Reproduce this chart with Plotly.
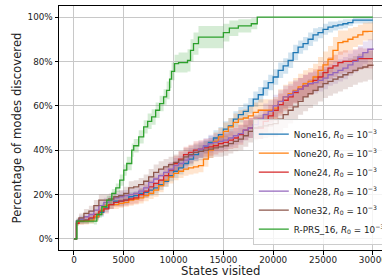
import plotly.graph_objects as go

# ---------------- data ----------------
# common x grid for the "None" runs (states visited)
X_NONE = [0, 250,
          500, 1000, 1500, 2000, 2500, 3000, 3500, 4000, 4500, 5000,
          5500, 6000, 6500, 7000, 7500, 8000, 8500, 9000, 9500, 10000,
          10500, 11000, 11500, 12000, 12500, 13000, 13500, 14000, 14500, 15000,
          15500, 16000, 16500, 17000, 17500, 18000, 18500, 19000, 19500, 20000,
          20500, 21000, 21500, 22000, 22500, 23000, 23500, 24000, 24500, 25000,
          25500, 26000, 26500, 27000, 27500, 28000, 28500, 29000, 29500, 30000]

none16 = [0, 8,
          8.5, 8.5, 9, 10, 12, 14, 15.5, 17, 17, 17.5,
          19, 19.5, 20.5, 21, 22, 23, 24.5, 26, 28.5, 30.5,
          32, 34, 36, 38, 39.5, 41.5, 43.5, 45.5, 47, 49.5,
          51, 54, 56, 57.5, 60, 63, 65, 68, 70.5, 73,
          76, 78, 80.5, 84, 86.5, 88, 90, 92, 93, 94.5,
          95.5, 96, 96.5, 97, 97.5, 98.6, 98.6, 98.6, 98.6, 98.6]
none16_sd = [0, 1,
             1.5, 1.5, 1.5, 1.5, 2, 2, 2, 2, 2, 2,
             2, 2, 2, 2.5, 2.5, 2.5, 2.5, 2.5, 2.5, 3,
             3, 3, 3, 3, 3, 3, 3, 3.5, 3.5, 3.5,
             3.5, 3.5, 3.5, 3.5, 3.5, 3.5, 3.5, 3.5, 3.5, 3.5,
             3.5, 3.5, 3.5, 3.5, 3, 3, 3, 3, 2.5, 2.5,
             2.5, 2, 2, 2, 1.5, 1.5, 1.5, 1.5, 1.5, 1.5]

none20 = [0, 7,
          8, 8, 8.5, 10, 13, 15, 15.5, 15.5, 16, 16.5,
          17.5, 18, 18.5, 19.5, 20.5, 22, 24, 26.5, 28, 29.5,
          30.5, 31.5, 32, 32.5, 33, 36, 40, 44, 46, 48.5,
          50.5, 52.5, 54, 54.5, 55.5, 57, 58, 58, 58, 59,
          62, 64, 65.5, 67, 68.5, 70, 71, 73, 76, 78.5,
          81, 85, 88.5, 89, 90, 91, 92, 93.5, 93.6, 93.6]
none20_sd = [0, 1,
             1.5, 1.5, 1.5, 2, 2, 2, 2, 2, 2, 2,
             2.5, 2.5, 2.5, 2.5, 2.5, 3, 3, 3, 3, 3,
             3, 3, 3, 3, 3, 3.5, 3.5, 4, 4, 4,
             4, 4, 4, 4, 4.5, 4.5, 5, 5, 5, 5,
             5.5, 5.5, 5.5, 5.5, 6, 6, 6, 6, 6, 6,
             6, 6, 5.5, 5, 5, 4.5, 4.5, 4, 4, 4]

none24 = [0, 7,
          8, 8.5, 9.5, 11, 12.5, 13.5, 15.5, 16.5, 17, 17.5,
          18, 18.5, 20, 21.5, 23.5, 25, 26.5, 28.5, 31, 34,
          36, 38, 39, 40, 40.5, 41, 41.5, 42, 43, 43.5,
          44.5, 45.5, 47, 49, 50, 50, 50, 53, 55.5, 58,
          60.5, 62.5, 64, 66, 67.5, 69, 70, 71.5, 73, 75,
          77, 78, 79.5, 80, 80, 80.5, 81.3, 81.3, 81.3, 81.3]
none24_sd = [0, 1,
             1.5, 1.5, 2, 2, 2, 2, 2, 2, 2.5, 2.5,
             2.5, 2.5, 3, 3, 3, 3, 3, 3.5, 3.5, 3.5,
             3.5, 3.5, 3.5, 4, 4, 4, 4, 4, 4, 4,
             4, 4.5, 4.5, 4.5, 4.5, 5, 5, 5, 5, 5,
             5, 5, 5, 5, 5, 5, 5, 5, 5, 5,
             5, 5, 5, 5, 5, 5, 5, 4.5, 4.5, 4.5]

none28 = [0, 8,
          9, 10, 11, 13, 15, 16.5, 17.5, 18.5, 19, 19.5,
          20, 20.5, 21.5, 23, 25.5, 27, 28.5, 30, 31.5, 33,
          34, 35.5, 37.5, 39, 40.5, 42, 43, 43.5, 44, 44.5,
          45.5, 46.5, 47.5, 49, 50, 51.5, 54, 56, 57.5, 60,
          62, 64, 65, 66.5, 67.5, 69, 70, 70.5, 71.5, 72.5,
          74, 75, 76, 77, 78.5, 80, 82, 84, 85.5, 86]
none28_sd = [0, 1,
             1.5, 1.5, 2, 2, 2, 2, 2, 2, 2.5, 2.5,
             2.5, 2.5, 2.5, 3, 3, 3, 3, 3, 3, 3.5,
             3.5, 3.5, 3.5, 3.5, 3.5, 3.5, 4, 4, 4, 4,
             4, 4, 4, 4.5, 4.5, 4.5, 4.5, 5, 5, 5,
             5, 5, 5, 5, 5, 5, 5, 5, 5, 5,
             5, 5, 5, 5, 5, 5, 5, 5, 4.5, 4.5]

none32 = [0, 8,
          9.5, 11.5, 12.5, 15, 17.5, 17.5, 18, 19, 19.5, 20.5,
          23, 23.5, 24.5, 26, 28, 30, 31.5, 32.5, 33.5, 34.5,
          35.5, 37, 38, 39, 39.5, 40, 40.5, 41, 41.5, 42,
          43, 44, 45, 46.5, 48.5, 50, 50.5, 51, 51.5, 52,
          54, 56, 58, 59.5, 62, 64, 65.5, 67, 68.5, 70,
          71, 72, 73, 74, 75, 76, 77, 77.5, 78.3, 78.6]
none32_sd = [0, 1.5,
             2, 2, 2.5, 2.5, 2.5, 2.5, 2.5, 2.5, 2.5, 3,
             3, 3, 3, 3, 3.5, 3.5, 3.5, 3.5, 3.5, 3.5,
             4, 4, 4, 4, 4, 4, 4, 4, 4.5, 4.5,
             4.5, 4.5, 5, 5, 5, 5.5, 5.5, 5.5, 5.5, 6,
             6, 6, 6, 6, 6, 6.5, 6.5, 6.5, 6.5, 6.5,
             6.5, 6.5, 6.5, 6.5, 6.5, 6.5, 6.5, 6.5, 6.5, 6.5]

# R-PRS_16 has its own breakpoints
X_RPRS = [0, 300, 2000, 2300, 2800, 3300, 3800, 4200, 4600, 5000,
          5300, 5800, 6000, 6500, 7000, 7400, 7800, 8200, 8600, 9000,
          9300, 9600, 9800, 10100, 10500, 11400, 11700, 12000, 12500, 14600,
          15000, 15600, 16500, 17800, 18400, 30000]
rprs16 = [0, 8, 8, 11, 14.5, 17.5, 20.5, 23, 26.5, 31,
          34, 40, 42, 46, 50.5, 53, 55, 58, 61, 64,
          67, 72, 75.5, 79, 79.5, 80.5, 85, 88, 91, 91,
          93, 95, 96, 97, 100, 100]
rprs16_sd = [0, 1, 1.5, 1.5, 1.5, 2, 2, 2, 2.5, 2.5,
             3, 3, 3, 3, 3, 3.5, 3.5, 3.5, 3.5, 3.5,
             4, 4, 4, 4, 4.5, 5, 5, 5, 5, 5,
             4, 3.5, 3, 2.5, 0, 0]

labels = ["None16", "None20", "None24", "None28", "None32", "R-PRS_16"]
colors = ["#1f77b4", "#ff7f0e", "#d62728", "#9467bd", "#8c564b", "#2ca02c"]
fills = ["rgba(31,119,180,0.2)", "rgba(255,127,14,0.2)", "rgba(214,39,40,0.2)",
         "rgba(148,103,189,0.2)", "rgba(140,86,75,0.2)", "rgba(44,160,44,0.2)"]

X_TICKS = [0, 5000, 10000, 15000, 20000, 25000, 30000]
Y_TICKS = [0, 20, 40, 60, 80, 100]
X_TITLE = "States visited"
Y_TITLE = "Percentage of modes discovered"

series = [
    (X_NONE, none16, none16_sd),
    (X_NONE, none20, none20_sd),
    (X_NONE, none24, none24_sd),
    (X_NONE, none28, none28_sd),
    (X_NONE, none32, none32_sd),
    (X_RPRS, rprs16, rprs16_sd),
]
for xs, ys, sd in series:
    assert len(xs) == len(ys) == len(sd), (len(xs), len(ys), len(sd))

FONT = "DejaVu Sans"
fig = go.Figure()

# bands
for (xs, ys, sd), fc in zip(series, fills):
    up = [y + s for y, s in zip(ys, sd)]
    lo = [y - s for y, s in zip(ys, sd)]
    fig.add_trace(go.Scatter(x=xs, y=up, mode="lines", line=dict(width=0, shape="hv"),
                             showlegend=False, hoverinfo="skip"))
    fig.add_trace(go.Scatter(x=xs, y=lo, mode="lines", line=dict(width=0, shape="hv"),
                             fill="tonexty", fillcolor=fc, showlegend=False, hoverinfo="skip"))

# mean lines
for (xs, ys, sd), lab, c in zip(series, labels, colors):
    fig.add_trace(go.Scatter(
        x=xs, y=ys, mode="lines", line=dict(color=c, width=1.3, shape="hv"),
        name=f"{lab}, <i>R</i><sub>0</sub> = 10<sup>−3</sup>"))

fig.update_layout(
    width=382, height=279,
    margin=dict(l=59, r=0, t=6, b=29, autoexpand=False),
    paper_bgcolor="white", plot_bgcolor="white",
    font=dict(family=FONT, size=9, color="#222222"),
    legend=dict(x=0.6, y=0.022, xanchor="left", yanchor="bottom",
                traceorder="normal",
                bgcolor="rgba(255,255,255,0.8)", bordercolor="#cccccc", borderwidth=1,
                font=dict(size=8.8, family=FONT), tracegroupgap=0,
                itemwidth=30),
    xaxis=dict(range=[-1500, 30920], tickvals=X_TICKS,
               ticktext=[str(v) for v in X_TICKS], ticklabeloverflow="allow",
               ticklabelstandoff=-2,
               showgrid=True, gridcolor="#c8c8c8", gridwidth=1,
               showline=True, linecolor="black", linewidth=1, mirror=True,
               ticks="outside", ticklen=3.5, tickcolor="black", tickwidth=0.8,
               zeroline=False, tickfont=dict(size=8.8)),
    yaxis=dict(range=[-5, 105], tickvals=Y_TICKS,
               ticktext=[f"{v}%" for v in Y_TICKS],
               showgrid=True, gridcolor="#c8c8c8", gridwidth=1,
               showline=True, linecolor="black", linewidth=1, mirror=False,
               ticks="outside", ticklen=3.5, tickcolor="black", tickwidth=0.8,
               zeroline=False, tickfont=dict(size=8.8),
               title=dict(text=Y_TITLE, font=dict(size=11.7), standoff=3)),
    annotations=[dict(text=X_TITLE, xref="paper", yref="paper", x=0.5, y=-0.088,
                      xanchor="center", yanchor="middle", showarrow=False,
                      font=dict(size=11.7, family=FONT, color="#222222"))],
)

fig.write_html("out.html", config={"displayModeBar": False},
               post_script="document.body.style.margin='0';document.body.style.padding='0';")
